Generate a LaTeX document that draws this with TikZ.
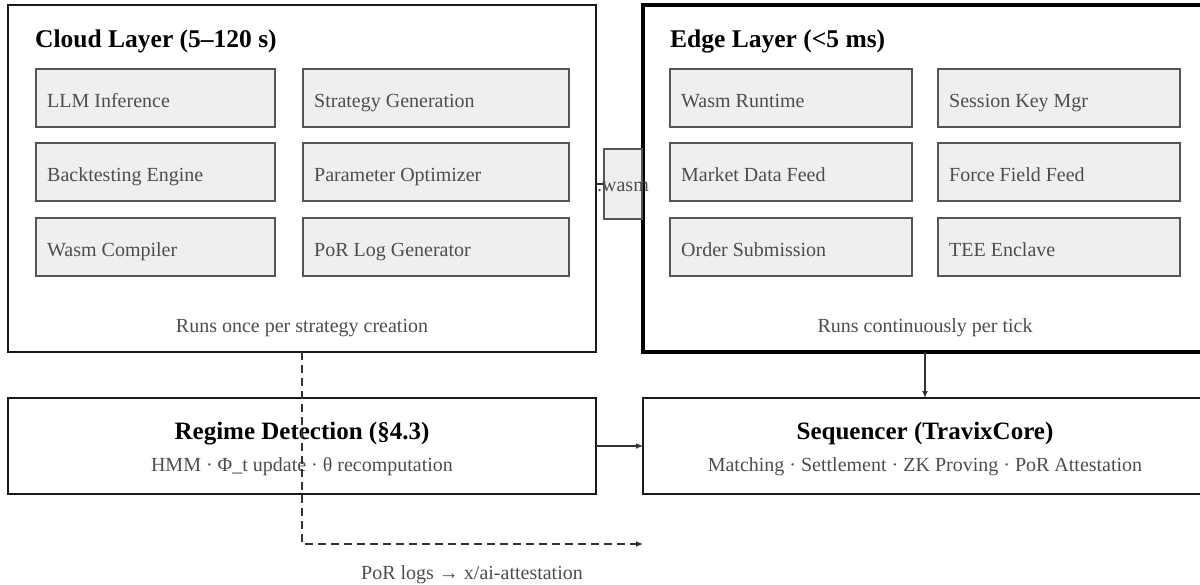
\documentclass[tikz,border=0pt]{standalone}
\usepackage{fontspec}
\setmainfont{Liberation Serif}
\usetikzlibrary{arrows.meta}
\definecolor{cellfill}{HTML}{EFEFEF}
\definecolor{cellline}{HTML}{555555}
\definecolor{softtext}{HTML}{4D4D4D}
\definecolor{linkgray}{HTML}{333333}
\tikzset{
  layerbox/.style={draw=black!90, line width=2.2pt, inner sep=0pt, outer sep=0pt, anchor=north west},
  cell/.style={draw=cellline, fill=cellfill, line width=1.4pt, minimum height=58pt,
               inner sep=0pt, outer sep=0pt, anchor=north west},
  celltext/.style={anchor=base west, text=softtext, font=\fontsize{20}{24}\selectfont, inner sep=0pt},
  layertitle/.style={anchor=base west, font=\fontsize{25.5}{30}\selectfont\bfseries, inner sep=0pt},
  caption/.style={anchor=base, text=softtext, font=\fontsize{20}{24}\selectfont, inner sep=0pt},
  boxtitle/.style={anchor=base, font=\fontsize{25}{30}\selectfont\bfseries, inner sep=0pt},
  flow/.style={draw=linkgray, line width=1.2pt, -{Latex[length=7pt,width=6pt]}},
  podash/.style={dash pattern=on 8pt off 5pt},
}
\begin{document}
\begin{tikzpicture}[x=1pt, y=-1pt]
  \useasboundingbox (0,0) rectangle (1200,584);
  \clip (0,0) rectangle (1200,584);

  % ---- layer containers ----
  \node[layerbox, minimum width=588pt, minimum height=347pt] (cloud) at (8,5) {};
  \node[layerbox, draw=black, line width=3.8pt, minimum width=564pt, minimum height=347pt] (edge) at (643,5) {};

  \node[layertitle] (cloudtitle) at (35,47) {Cloud Layer (5–120 s)};
  \node[layertitle] (edgetitle) at (670,47) {Edge Layer (<5 ms)};

  % ---- cloud layer components ----
  \node[cell, minimum width=239pt] (llm)     at (36,69)  {};
  \node[cell, minimum width=266pt] (strat)   at (303,69) {};
  \node[cell, minimum width=239pt] (backt)   at (36,143) {};
  \node[cell, minimum width=266pt] (param)   at (303,143) {};
  \node[cell, minimum width=239pt] (wcomp)   at (36,218) {};
  \node[cell, minimum width=266pt] (porlog)  at (303,218) {};

  \node[celltext] (llmt)    at (47,107)  {LLM Inference};
  \node[celltext] (stratt)  at (314,107) {Strategy Generation};
  \node[celltext] (backtt)  at (47,181)  {Backtesting Engine};
  \node[celltext] (paramt)  at (314,181) {Parameter Optimizer};
  \node[celltext] (wcompt)  at (47,256)  {Wasm Compiler};
  \node[celltext] (porlogt) at (314,256) {PoR Log Generator};

  % ---- edge layer components ----
  \node[cell, minimum width=242pt] (wrun)  at (670,69)  {};
  \node[cell, minimum width=242pt] (skey)  at (938,69)  {};
  \node[cell, minimum width=242pt] (mdata) at (670,143) {};
  \node[cell, minimum width=242pt] (ffeed) at (938,143) {};
  \node[cell, minimum width=242pt] (order) at (670,218) {};
  \node[cell, minimum width=242pt] (tee)   at (938,218) {};

  \node[celltext] (wrunt)  at (681,107) {Wasm Runtime};
  \node[celltext] (skeyt)  at (949,107) {Session Key Mgr};
  \node[celltext] (mdatat) at (681,181) {Market Data Feed};
  \node[celltext] (ffeedt) at (949,181) {Force Field Feed};
  \node[celltext] (ordert) at (681,256) {Order Submission};
  \node[celltext] (teet)   at (949,256) {TEE Enclave};

  \node[caption] (cloudnote) at (302,332) {Runs once per strategy creation};
  \node[caption] (edgenote)  at (925,332) {Runs continuously per tick};

  % ---- wasm hand-off ----
  \node[cell, minimum width=38pt, minimum height=70pt] (wasm) at (604,149) {};
  \draw[draw=linkgray, line width=1.2pt] (wasm.west -| cloud.east) -- (wasm.west);
  \node[caption] (wasmlabel) at (623,191) {.wasm};

  % ---- lower row ----
  \node[layerbox, minimum width=588pt, minimum height=96pt] (regime) at (8,398) {};
  \node[layerbox, minimum width=564pt, minimum height=96pt] (seq) at (643,398) {};

  \node[boxtitle] (regimet) at (302,439) {Regime Detection (§4.3)};
  \node[caption]  (regimes) at (302,471) {HMM · Φ\_t update · θ recomputation};
  \node[boxtitle] (seqt)    at (925,439) {Sequencer (TravixCore)};
  \node[caption]  (seqs)    at (925,471) {Matching · Settlement · ZK Proving · PoR Attestation};

  % ---- connectors ----
  \draw[flow] (edge.south) -- (seq.north);
  \draw[flow] (regime.east) -- (seq.west);

  \coordinate (attest) at (643,544);
  \draw[flow, podash] (cloud.south) |- (attest);
  \node[caption] (attestlabel) at (472,579) {PoR logs → x/ai-attestation};
\end{tikzpicture}
\end{document}
